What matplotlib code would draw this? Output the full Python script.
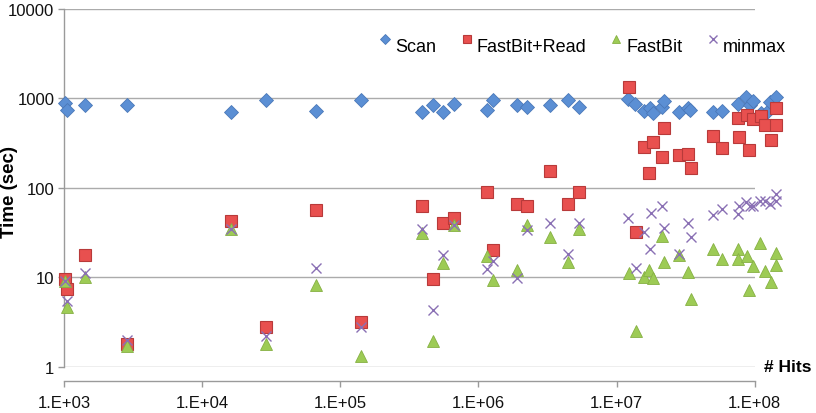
import matplotlib
matplotlib.use("Agg")
import matplotlib.pyplot as plt
from matplotlib.ticker import FixedLocator, FixedFormatter, NullLocator
from matplotlib.transforms import ScaledTranslation

plt.rcParams['font.family'] = ['Liberation Sans', 'DejaVu Sans']

# ---- data ----
scan_x = [1.02e3, 1.06e3, 1.42e3, 2.84e3, 1.61e4, 2.90e4, 6.64e4, 1.41e5, 3.92e5, 4.67e5,
          5.57e5, 6.62e5, 1.16e6, 1.28e6, 1.91e6, 2.24e6, 3.30e6, 4.43e6, 5.37e6, 1.22e7,
          1.36e7, 1.58e7, 1.75e7, 1.85e7, 2.12e7, 2.21e7, 2.85e7, 3.27e7, 3.40e7, 4.97e7,
          5.77e7, 7.61e7, 8.65e7, 9.25e7, 9.77e7, 1.11e8, 1.22e8, 1.29e8, 1.43e8]
scan_y = [879, 740, 841, 841, 703, 957, 722, 957, 703, 848,
          703, 870, 746, 957, 848, 794, 848, 965, 794, 982,
          864, 727, 780, 690, 800, 925, 709, 774, 735, 709,
          727, 864, 1026, 841, 940, 690, 698, 902, 1026]

fbr_x = [1.02e3, 1.06e3, 1.42e3, 2.84e3, 1.62e4, 2.90e4, 6.64e4, 1.41e5, 3.92e5, 4.67e5,
         5.57e5, 6.62e5, 1.16e6, 1.28e6, 1.91e6, 2.24e6, 3.30e6, 4.43e6, 5.37e6, 1.23e7,
         1.38e7, 1.58e7, 1.72e7, 1.85e7, 2.12e7, 2.21e7, 2.85e7, 3.31e7, 3.44e7, 4.97e7,
         5.77e7, 7.61e7, 7.74e7, 8.75e7, 9.05e7, 9.77e7, 1.11e8, 1.19e8, 1.31e8, 1.43e8, 1.43e8]
fbr_y = [9.6, 7.4, 17.8, 1.8, 43, 2.8, 56, 3.2, 63, 9.6,
         41, 46, 89, 20, 66, 63, 153, 66, 89, 1327,
         32, 288, 146, 328, 219, 463, 233, 239, 168, 382,
         279, 603, 367, 651, 263, 587, 639, 508, 345, 773, 508]

fb_x = [1.02e3, 1.06e3, 1.42e3, 2.84e3, 1.62e4, 2.90e4, 6.64e4, 1.41e5, 3.92e5, 4.67e5,
        5.57e5, 6.62e5, 1.16e6, 1.28e6, 1.91e6, 2.26e6, 3.30e6, 4.43e6, 5.37e6, 1.23e7,
        1.38e7, 1.58e7, 1.72e7, 1.85e7, 2.12e7, 2.21e7, 2.85e7, 3.31e7, 3.44e7, 4.97e7,
        5.77e7, 7.61e7, 7.61e7, 8.75e7, 9.05e7, 9.77e7, 1.09e8, 1.19e8, 1.31e8, 1.43e8, 1.43e8]
fb_y = [9.2, 4.7, 10.0, 1.73, 35, 1.81, 8.3, 1.32, 31, 1.94,
        14.4, 38, 17.5, 9.4, 12.1, 38, 28.5, 14.8, 35, 11.1,
        2.55, 10.2, 12.1, 9.9, 29, 14.8, 17.8, 11.4, 5.75, 20.8,
        16.1, 20.8, 16.1, 17.2, 7.3, 13.5, 24.3, 11.9, 8.8, 18.6, 13.8]

mm_x = [1.02e3, 1.06e3, 1.42e3, 2.84e3, 1.62e4, 2.90e4, 6.64e4, 1.41e5, 3.92e5, 4.67e5,
        5.57e5, 6.62e5, 1.16e6, 1.28e6, 1.91e6, 2.24e6, 3.30e6, 4.43e6, 5.37e6, 1.22e7,
        1.38e7, 1.58e7, 1.75e7, 1.78e7, 2.12e7, 2.21e7, 2.85e7, 3.31e7, 3.44e7, 4.97e7,
        5.77e7, 7.61e7, 7.74e7, 8.65e7, 9.25e7, 9.77e7, 1.09e8, 1.19e8, 1.29e8, 1.43e8, 1.43e8]
mm_y = [9.2, 5.5, 11.2, 2.02, 35, 2.24, 12.8, 2.82, 34.8, 4.34,
        18.0, 38, 12.4, 15.4, 9.8, 34.2, 40.3, 18.3, 40.6, 46,
        12.7, 32, 20.8, 52.5, 63, 36, 18.3, 41, 28, 50,
        58, 51, 63, 69, 63, 63, 72, 72, 66, 85, 72]

series_names = ["Scan", "FastBit+Read", "FastBit", "minmax"]
x_ticks = [1e3, 1e4, 1e5, 1e6, 1e7, 1e8]
x_tick_labels = ["1.E+03", "1.E+04", "1.E+05", "1.E+06", "1.E+07", "1.E+08"]
y_ticks = [1, 10, 100, 1000, 10000]
y_tick_labels = ["1", "10", "100", "1000", "10000"]

# ---- figure ----
fig = plt.figure(figsize=(8.16, 4.14), dpi=100)
W, H = 816, 414
ax = fig.add_axes([64 / W, 1 - 368 / H, 690.7 / W, (368 - 9.7) / H])
ax.set_xscale('log')
ax.set_yscale('log')
ax.set_xlim(1e3, 1e8)
ax.set_ylim(1, 10000)

blue, blue_e = '#5B8FD4', '#4A78B8'
red, red_e = '#E8504F', '#B83A3A'
green, green_e = '#9DCB55', '#86B043'
purple = '#8A70B4'

h1, = ax.plot(scan_x, scan_y, ls='none', marker='D', ms=7.4, mfc=blue, mec=blue_e, mew=0.6,
              clip_on=False, zorder=3, label=series_names[0])
h2, = ax.plot(fbr_x, fbr_y, ls='none', marker='s', ms=8.2, mfc=red, mec=red_e, mew=0.8,
              clip_on=False, zorder=4, label=series_names[1])
h3, = ax.plot(fb_x, fb_y, ls='none', marker='^', ms=8.7, mfc=green, mec=green_e, mew=0.6,
              clip_on=False, zorder=5, label=series_names[2])
h4, = ax.plot(mm_x, mm_y, ls='none', marker='x', ms=7.6, mec=purple, mew=1.0,
              clip_on=False, zorder=6, label=series_names[3])

ax.xaxis.set_major_locator(FixedLocator(x_ticks))
ax.xaxis.set_major_formatter(FixedFormatter(x_tick_labels))
ax.xaxis.set_minor_locator(NullLocator())
ax.yaxis.set_major_locator(FixedLocator(y_ticks))
ax.yaxis.set_major_formatter(FixedFormatter(y_tick_labels))
ax.yaxis.set_minor_locator(NullLocator())

ax.grid(axis='y', which='major', color='#ABABAB', lw=1.0)
ax.set_axisbelow(True)
for s in ['top', 'right']:
    ax.spines[s].set_visible(False)
for s in ['left', 'bottom']:
    ax.spines[s].set_color('#9A9A9A')
    ax.spines[s].set_linewidth(1.0)
ax.spines['bottom'].set_position(('outward', 9.9))
ax.tick_params(axis='both', colors='#9A9A9A', labelcolor='#111111', labelsize=12,
               length=4, width=1, direction='out')
ax.tick_params(axis='x', pad=6)
ax.tick_params(axis='y', pad=3)

ax.set_ylabel('Time (sec)', fontsize=13.5, fontweight='bold')
ax.yaxis.set_label_coords((18 - 64) / 690.7, 0.49)
fig.text(812 / W, 1 - 367 / H, '# Hits', ha='right', va='center', fontsize=12.5,
         fontweight='bold')

leg = fig.legend(handles=[h1, h2, h3, h4], loc='center left',
                 bbox_to_anchor=(380 / W, 1 - 47 / H),
                 ncol=4, frameon=False, fontsize=13, handlelength=0.6, handletextpad=0.25,
                 columnspacing=1.37, markerscale=0.72, borderaxespad=0, borderpad=0)
for lh in leg.legend_handles:
    lh.set_transform(lh.get_transform() + ScaledTranslation(0, 3.5 / 72, fig.dpi_scale_trans))

fig.savefig('out.png', dpi=100)
